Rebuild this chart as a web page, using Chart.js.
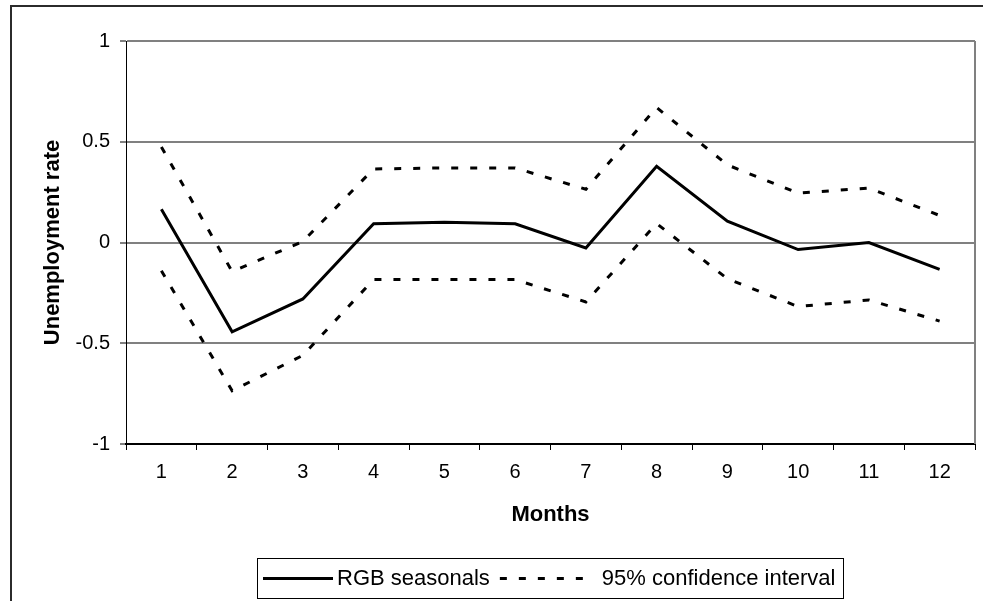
<!DOCTYPE html>
<html>
<head>
<meta charset="utf-8">
<script src="https://cdn.jsdelivr.net/npm/chart.js@4"></script>
<style>
  html, body { margin: 0; padding: 0; background: #fff; }
  canvas { display: block; }
</style>
</head>
<body>
<canvas id="c" width="983" height="601"></canvas>
<script>
const months = ['1','2','3','4','5','6','7','8','9','10','11','12'];
const rgbSeasonals = [0.165, -0.443, -0.28, 0.093, 0.10, 0.093, -0.027, 0.378, 0.106, -0.035, 0.0, -0.133];
const upperCI = [0.474, -0.144, 0.005, 0.365, 0.37, 0.37, 0.264, 0.67, 0.385, 0.245, 0.27, 0.134];
const lowerCI = [-0.14, -0.736, -0.56, -0.184, -0.184, -0.184, -0.295, 0.094, -0.18, -0.318, -0.285, -0.39];
const yTicks = [-1, -0.5, 0, 0.5, 1];

const FONT = "'Liberation Sans', Arial, sans-serif";
const DASH = [7, 12];

const framePlugin = {
  id: 'frame',
  beforeDraw(chart) {
    const ctx = chart.ctx;
    ctx.save();
    ctx.fillStyle = '#fff';
    ctx.fillRect(0, 0, chart.width, chart.height);
    ctx.strokeStyle = '#2b2b2b';
    ctx.lineWidth = 2;
    ctx.strokeRect(11, 6, chart.width + 20, chart.height + 20);
    ctx.restore();
  },
  afterDatasetsDraw(chart) {
    const a = chart.chartArea;
    const ctx = chart.ctx;
    ctx.save();
    ctx.strokeStyle = '#808080';
    ctx.lineWidth = 2;
    ctx.beginPath();
    ctx.moveTo(a.right, a.top);
    ctx.lineTo(a.right, a.bottom);
    ctx.stroke();
    ctx.restore();
  },
  afterDraw(chart) {
    const ctx = chart.ctx;
    const ds = chart.data.datasets;
    const box = {x: 257, y: 558, w: 586, h: 40};
    ctx.save();
    ctx.fillStyle = '#fff';
    ctx.fillRect(box.x, box.y, box.w, box.h);
    ctx.strokeStyle = '#000';
    ctx.lineWidth = 1;
    ctx.strokeRect(box.x + 0.5, box.y + 0.5, box.w, box.h);
    const cy = box.y + box.h / 2 + 0.5;
    ctx.font = '22px ' + FONT;
    ctx.fillStyle = '#000';
    ctx.textBaseline = 'middle';
    // solid sample
    ctx.strokeStyle = '#000';
    ctx.lineWidth = 3;
    ctx.setLineDash([]);
    ctx.beginPath();
    ctx.moveTo(263, cy);
    ctx.lineTo(333, cy);
    ctx.stroke();
    ctx.fillText(ds[0].label, 337, cy);
    const w0 = ctx.measureText(ds[0].label).width;
    const dStart = 337 + w0 + 10;
    ctx.setLineDash(DASH);
    ctx.beginPath();
    ctx.moveTo(dStart, cy);
    ctx.lineTo(dStart + 95, cy);
    ctx.stroke();
    ctx.setLineDash([]);
    ctx.fillText(ds[1].label, dStart + 102, cy);
    ctx.restore();
  }
};

new Chart(document.getElementById('c'), {
  type: 'line',
  data: {
    labels: months,
    datasets: [
      {label: 'RGB seasonals', data: rgbSeasonals, borderColor: '#000', borderWidth: 3, pointRadius: 0, tension: 0, fill: false},
      {label: '95% confidence interval', data: upperCI, borderColor: '#000', borderWidth: 3, borderDash: DASH, pointRadius: 0, tension: 0, fill: false},
      {label: '95% confidence interval (lower)', data: lowerCI, borderColor: '#000', borderWidth: 3, borderDash: DASH, pointRadius: 0, tension: 0, fill: false}
    ]
  },
  options: {
    responsive: false,
    animation: false,
    devicePixelRatio: 1,
    layout: {padding: {left: 0, right: 8, top: 41, bottom: 73}},
    plugins: {legend: {display: false}, tooltip: {enabled: false}, title: {display: false}},
    scales: {
      x: {
        type: 'category',
        offset: true,
        afterFit(s) { s.height = 84; },
        grid: {offset: true, drawOnChartArea: false, drawTicks: true, tickLength: 6, tickColor: '#000', tickWidth: 1},
        border: {display: true, color: '#000', width: 2},
        ticks: {color: '#000', font: {family: FONT, size: 20}, padding: 10, maxRotation: 0, autoSkip: false},
        title: {display: true, text: 'Months', color: '#000', font: {family: FONT, size: 22, weight: 'bold'}, padding: {top: 0, bottom: 0}}
      },
      y: {
        min: -1, max: 1,
        afterFit(s) { s.width = 126; },
        afterBuildTicks(s) { s.ticks = yTicks.map(v => ({value: v})); },
        grid: {color: '#808080', lineWidth: 2, drawTicks: true, tickLength: 6, tickColor: '#000', tickWidth: 1},
        border: {display: true, color: '#000', width: 1},
        ticks: {color: '#000', font: {family: FONT, size: 20}, padding: 10, callback: v => String(v)},
        title: {display: true, text: 'Unemployment rate', color: '#000', font: {family: FONT, size: 22, weight: 'bold'}, padding: {top: 40, bottom: 0}}
      }
    }
  },
  plugins: [framePlugin]
});
</script>
</body>
</html>
